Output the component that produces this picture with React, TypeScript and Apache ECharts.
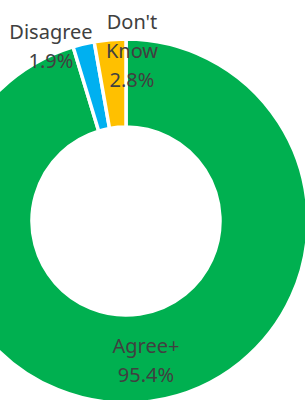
import React, { useEffect, useRef } from "react";
import * as echarts from "echarts";

const categories = ["Agree+", "Disagree", "Don't Know"];
const values = [95.4, 1.9, 2.8];
const colors = ["#00B050", "#00B0F0", "#FFC000"];

export default function App() {
  const ref = useRef<HTMLDivElement>(null);
  useEffect(() => {
    if (!ref.current) return;
    const chart = echarts.init(ref.current, undefined, { renderer: "svg" });
    chart.setOption({
      animation: false,
      backgroundColor: "#ffffff",
      series: [
        {
          type: "pie",
          center: [126, 221],
          radius: [94, 182],
          startAngle: 90,
          clockwise: true,
          avoidLabelOverlap: false,
          itemStyle: { borderColor: "#ffffff", borderWidth: 3.5 },
          label: {
            show: true,
            position: "inside",
            color: "#404040",
            fontFamily: "Noto Sans",
            fontSize: 20,
            lineHeight: 29,
            align: "center",
            formatter: (p: any) => `${p.name.replace(" ", "\n")}\n${p.value}%`,
          },
          labelLine: { show: false },
          labelLayout: (p: any) => {
            if (p.dataIndex === 1) return { x: 51, y: 46, align: "center", verticalAlign: "middle" };
            if (p.dataIndex === 2) return { x: 132, y: 50, align: "center", verticalAlign: "middle" };
            return { x: 146, y: 360, align: "center", verticalAlign: "middle" };
          },
          data: categories.map((c, i) => ({
            name: c,
            value: values[i],
            itemStyle: { color: colors[i] },
          })),
        },
      ],
    });
    return () => chart.dispose();
  }, []);
  return (
    <div
      ref={ref}
      style={{ position: "fixed", left: 0, top: 0, width: 305, height: 400 }}
    />
  );
}
